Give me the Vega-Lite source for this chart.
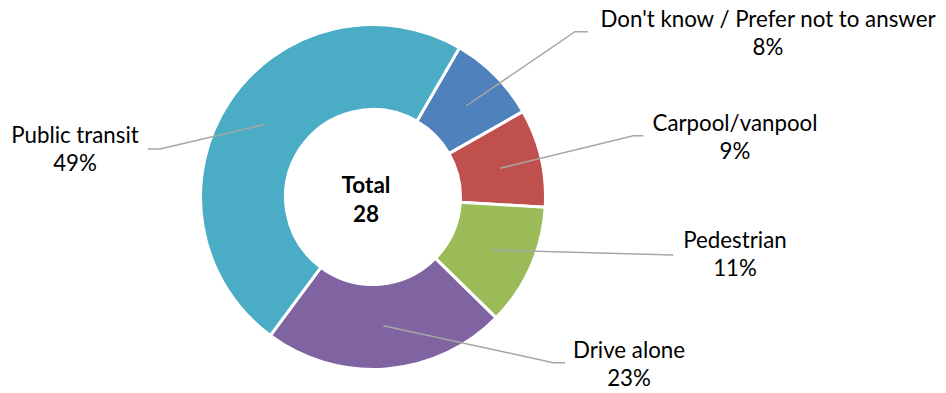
{
  "$schema": "https://vega.github.io/schema/vega-lite/v6.json",
  "width": 946,
  "height": 393,
  "padding": 0,
  "autosize": {"type": "fit", "contains": "padding"},
  "config": {"view": {"stroke": null}},
  "datasets": {
    "slices": [
      {"name": "Don't know / Prefer not to answer", "share": 8.4, "order": 1},
      {"name": "Carpool/vanpool", "share": 9.2, "order": 2},
      {"name": "Pedestrian", "share": 11.4, "order": 3},
      {"name": "Drive alone", "share": 22.8, "order": 4},
      {"name": "Public transit", "share": 48.2, "order": 5}
    ],
    "leaders": [
      {"name": "Don't know / Prefer not to answer", "seq": 1, "x": 93, "y": 91},
      {"name": "Don't know / Prefer not to answer", "seq": 2, "x": 202, "y": 165.3},
      {"name": "Don't know / Prefer not to answer", "seq": 3, "x": 214.7, "y": 165.3},
      {"name": "Carpool/vanpool", "seq": 1, "x": 127, "y": 28.7},
      {"name": "Carpool/vanpool", "seq": 2, "x": 260.3, "y": 61.3},
      {"name": "Carpool/vanpool", "seq": 3, "x": 270.3, "y": 61.3},
      {"name": "Pedestrian", "seq": 1, "x": 118.7, "y": -53},
      {"name": "Pedestrian", "seq": 2, "x": 300.3, "y": -58},
      {"name": "Drive alone", "seq": 1, "x": 10.3, "y": -128.7},
      {"name": "Drive alone", "seq": 2, "x": 180.3, "y": -165.7},
      {"name": "Drive alone", "seq": 3, "x": 192, "y": -165.7},
      {"name": "Public transit", "seq": 1, "x": -108, "y": 72.7},
      {"name": "Public transit", "seq": 2, "x": -213, "y": 48},
      {"name": "Public transit", "seq": 3, "x": -225.3, "y": 48}
    ],
    "labels": [
      {"name": "Don't know / Prefer not to answer", "pct": "8%", "x": 395, "y": 170.3},
      {"name": "Carpool/vanpool", "pct": "9%", "x": 362, "y": 66.3},
      {"name": "Pedestrian", "pct": "11%", "x": 362, "y": -51.3},
      {"name": "Drive alone", "pct": "23%", "x": 256, "y": -161.3},
      {"name": "Public transit", "pct": "49%", "x": -298, "y": 53.7}
    ]
  },
  "layer": [
    {
      "data": {"name": "slices"},
      "mark": {"type": "arc", "outerRadius": 172.5, "innerRadius": 87.5, "stroke": "white", "strokeWidth": 3},
      "encoding": {
        "x": {"datum": 0, "type": "quantitative", "scale": {"domain": [-373, 573], "nice": false, "zero": false}, "axis": null},
        "y": {"datum": 0, "type": "quantitative", "scale": {"domain": [-196, 197], "nice": false, "zero": false}, "axis": null},
        "theta": {"field": "share", "type": "quantitative", "stack": true, "scale": {"range": [0.525, 6.8082]}},
        "order": {"field": "order", "type": "quantitative"},
        "color": {
          "field": "name", "type": "nominal", "legend": null,
          "scale": {
            "domain": ["Don't know / Prefer not to answer", "Carpool/vanpool", "Pedestrian", "Drive alone", "Public transit"],
            "range": ["#4F81BD", "#C0504D", "#9BBB59", "#8064A2", "#4BACC6"]
          }
        }
      }
    },
    {
      "data": {"name": "leaders"},
      "mark": {"type": "line", "color": "#A6A6A6", "strokeWidth": 1.5},
      "encoding": {
        "x": {"field": "x", "type": "quantitative", "scale": {"domain": [-373, 573], "nice": false, "zero": false}, "axis": null},
        "y": {"field": "y", "type": "quantitative", "scale": {"domain": [-196, 197], "nice": false, "zero": false}, "axis": null},
        "detail": {"field": "name", "type": "nominal"},
        "order": {"field": "seq", "type": "quantitative"}
      }
    },
    {
      "data": {"name": "labels"},
      "mark": {"type": "text", "font": "Lato", "fontSize": 22.3, "color": "#000000", "align": "center", "baseline": "alphabetic"},
      "encoding": {
        "x": {"field": "x", "type": "quantitative", "scale": {"domain": [-373, 573], "nice": false, "zero": false}, "axis": null},
        "y": {"field": "y", "type": "quantitative", "scale": {"domain": [-196, 197], "nice": false, "zero": false}, "axis": null},
        "text": {"field": "name", "type": "nominal"}
      }
    },
    {
      "data": {"name": "labels"},
      "mark": {"type": "text", "font": "Lato", "fontSize": 22.3, "color": "#000000", "align": "center", "baseline": "alphabetic", "dy": 28},
      "encoding": {
        "x": {"field": "x", "type": "quantitative", "scale": {"domain": [-373, 573], "nice": false, "zero": false}, "axis": null},
        "y": {"field": "y", "type": "quantitative", "scale": {"domain": [-196, 197], "nice": false, "zero": false}, "axis": null},
        "text": {"field": "pct", "type": "nominal"}
      }
    },
    {
      "data": {"values": [{"t": "Total"}]},
      "mark": {"type": "text", "font": "Lato", "fontSize": 22.5, "fontWeight": "bold", "color": "#000000", "align": "center", "baseline": "alphabetic", "lineHeight": 29},
      "encoding": {
        "x": {"datum": -7, "type": "quantitative", "scale": {"domain": [-373, 573], "nice": false, "zero": false}, "axis": null},
        "y": {"datum": 4.3, "type": "quantitative", "scale": {"domain": [-196, 197], "nice": false, "zero": false}, "axis": null},
        "text": {"value": ["Total", "28"]}
      }
    }
  ]
}
